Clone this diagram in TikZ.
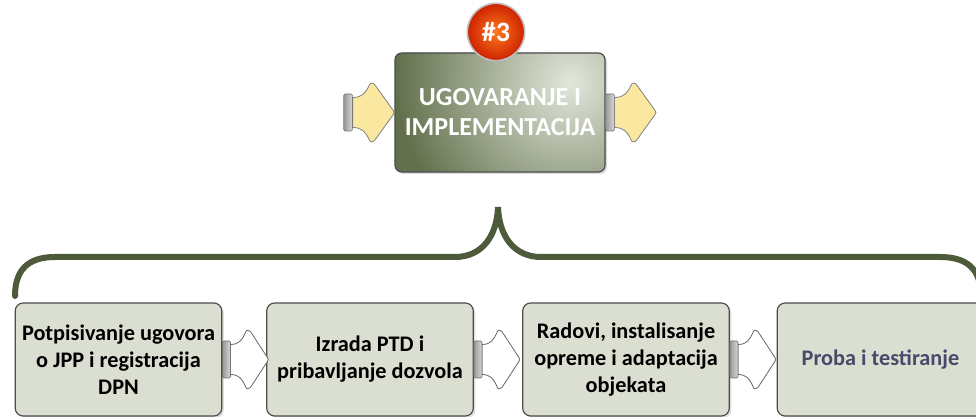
\documentclass[tikz,border=0pt]{standalone}
\usepackage{fontspec}
\setmainfont{Carlito}
\usetikzlibrary{calc,shadows}

\definecolor{oliveDark}{RGB}{98,112,76}
\definecolor{oliveLight}{RGB}{226,231,219}
\definecolor{stepFill}{RGB}{218,223,210}
\definecolor{braceGreen}{RGB}{78,91,58}
\definecolor{arrowYellow}{RGB}{250,232,160}
\definecolor{badgeRed}{RGB}{205,35,0}
\definecolor{badgeOrange}{RGB}{255,120,30}
\definecolor{lastText}{RGB}{75,72,108}

\tikzset{
  stepBox/.style={rectangle, draw=black!70, line width=0.9pt, fill=stepFill, rounded corners=6pt,
    minimum width=155pt, minimum height=84.75pt, align=center,
    font=\fontsize{16.7}{20.25}\selectfont\bfseries,
    drop shadow={shadow xshift=1.5pt, shadow yshift=-1.5pt, opacity=0.25}},
  phaseBox/.style={rectangle, draw=black!70, line width=0.9pt, rounded corners=5pt,
    minimum width=157.5pt, minimum height=89.25pt, align=center, text=white,
    font=\fontsize{19.5}{22.5}\selectfont\bfseries, fill=oliveDark,
    drop shadow={shadow xshift=1.5pt, shadow yshift=-1.5pt, opacity=0.3},
    path picture={\shade[inner color=oliveLight, outer color=oliveDark]
      ([xshift=-25pt, yshift=-22pt]path picture bounding box.north east) circle (130pt);}},
  badge/.style={circle, draw=black!25, line width=1.2pt, minimum size=43pt, inner sep=0pt,
    inner color=badgeOrange, outer color=badgeRed, text=white,
    font=\fontsize{21}{22}\selectfont\bfseries},
  arrowBand/.style={draw=black!55, line width=0.5pt, left color=black!40, right color=black!15, rounded corners=1pt},
  yellowArrow/.style={draw=black!50, line width=0.6pt, fill=arrowYellow, line join=round},
  whiteArrow/.style={draw=black!60, line width=0.6pt, fill=white, line join=round}
}

% band + arrow, drawn from the given point to the right
\newcommand{\flowArrow}[3]{%
  \begin{scope}[shift={(#1)}, #2]
    \draw[#3] (8,-15) .. controls (17,-15) and (20,-20) .. (23,-27)
      .. controls (24,-30) and (26,-30) .. (28,-28) -- (45,-2)
      .. controls (46,-1) and (46,1) .. (45,2) -- (28,28)
      .. controls (26,30) and (24,30) .. (23,27)
      .. controls (20,20) and (17,15) .. (8,15) -- cycle;
    \draw[arrowBand] (0,-18.5) rectangle (8,18.5);
  \end{scope}}

\begin{document}
\begin{tikzpicture}[x=0.75pt, y=-0.75pt]
\useasboundingbox (0,0) rectangle (976,417);
\clip (0,0) rectangle (976,417);

% upper phase
\node[phaseBox](phase) at (500,112.5){UGOVARANJE I\\IMPLEMENTACIJA};
\node[badge](phaseNo) at (496,32){\#3};
\flowArrow{$(phase.west)+(-50.6,0)$}{xscale=1.1}{yellowArrow}
\flowArrow{phase.east}{xscale=1.1}{yellowArrow}

% brace
\draw[braceGreen, line width=4.5pt, line cap=round]
  (15,296) .. controls (15,270) and (28,257) .. (55,257) -- (455,257)
  .. controls (482,257) and (497,236) .. (498,207)
  .. controls (499,236) and (514,257) .. (541,257) -- (940,257)
  .. controls (968,257) and (981,270) .. (981,296);

% steps
\node[stepBox](step1) at (118.5,359.5){Potpisivanje ugovora\\o JPP i registracija\\DPN};
\node[stepBox](step2) at (370,359.5){Izrada PTD i\\pribavljanje dozvola};
\node[stepBox](step3) at (626,359.5){Radovi, instalisanje\\opreme i adaptacija\\objekata};
\node[stepBox, text=lastText](step4) at (880.5,359.5){Proba i testiranje};

\flowArrow{step1.east}{}{whiteArrow}
\flowArrow{step2.east}{}{whiteArrow}
\flowArrow{step3.east}{}{whiteArrow}
\end{tikzpicture}
\end{document}
